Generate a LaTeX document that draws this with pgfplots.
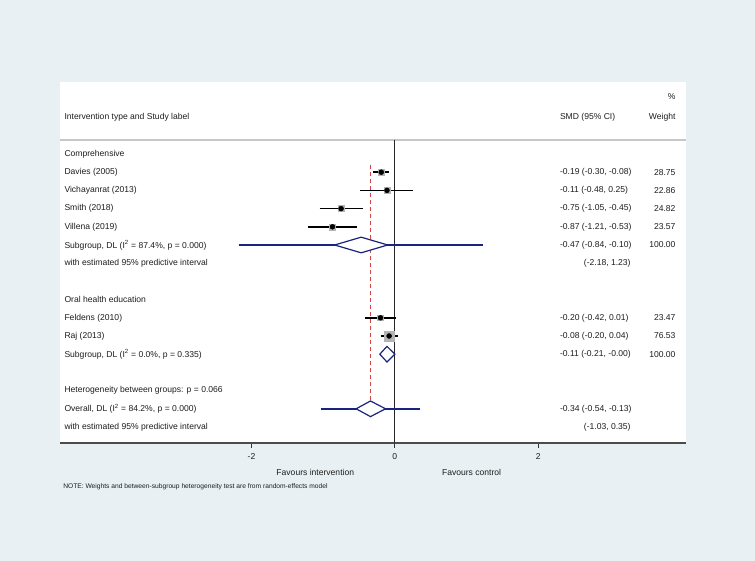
\documentclass[border=0pt]{standalone}
\usepackage{pgfplots}
\pgfplotsset{compat=1.18}
\usetikzlibrary{backgrounds}
\usepackage{fontspec}
\setmainfont{Liberation Sans}
\definecolor{bgc}{RGB}{232,240,243}
\definecolor{navy}{RGB}{26,35,126}
\definecolor{dred}{RGB}{210,70,70}
\definecolor{boxg}{RGB}{180,180,180}
\definecolor{txt}{RGB}{30,30,30}
\tikzset{tx/.style={font=\fontsize{8.6}{10}\selectfont, text=txt, inner sep=0pt}}
\begin{document}
\begin{tikzpicture}
\begin{axis}[
 scale only axis, width=626bp, height=361bp,
 xmin=-4.67, xmax=4.06, ymin=-2.956, ymax=16.88, y dir=reverse,
 axis x line*=bottom, axis y line=none,
 x axis line style={line width=1.3bp, draw=black!70, -},
 xtick={-2,0,2}, ytick=\empty,
 tick align=outside, major tick length=5bp, tick style={black!80, line width=0.8bp},
 xticklabel style={font=\fontsize{8.6}{10}\selectfont, text=txt, yshift=-2bp},
 /pgf/number format/assume math mode=true,
 axis background/.style={fill=white},
 clip=false,
]
% separator
\addplot[draw=black!22, line width=1.2bp] coordinates {(-4.67,0.23) (4.06,0.23)};
% zero line
\addplot[draw=black!85, line width=0.8bp] coordinates {(0,0.23) (0,16.88)};
% overall effect line
\addplot[draw=dred, line width=0.9bp, dash pattern=on 4bp off 3bp] coordinates {(-0.34,1.6) (-0.34,14.57)};
% weight boxes
\addplot[only marks, mark=square*, mark size=3.3bp, color=boxg] coordinates {(-0.19,2)};
\addplot[only marks, mark=square*, mark size=2.9bp, color=boxg] coordinates {(-0.11,3)};
\addplot[only marks, mark=square*, mark size=3.0bp, color=boxg] coordinates {(-0.75,4)};
\addplot[only marks, mark=square*, mark size=2.95bp, color=boxg] coordinates {(-0.87,5)};
\addplot[only marks, mark=square*, mark size=2.9bp, color=boxg] coordinates {(-0.20,10)};
\addplot[only marks, mark=square*, mark size=5bp, color=boxg] coordinates {(-0.08,11)};
% CI lines
\addplot[draw=black, line width=1.5bp] coordinates {(-0.30,2) (-0.08,2)};
\addplot[draw=black, line width=1.5bp] coordinates {(-0.48,3) (0.25,3)};
\addplot[draw=black, line width=1.5bp] coordinates {(-1.05,4) (-0.45,4)};
\addplot[draw=black, line width=1.5bp] coordinates {(-1.21,5) (-0.53,5)};
\addplot[draw=black, line width=1.5bp] coordinates {(-0.42,10) (0.01,10)};
\addplot[draw=black, line width=1.5bp] coordinates {(-0.20,11) (0.04,11)};
% point estimates
\addplot[only marks, mark=*, mark size=2.5bp, color=black] coordinates {(-0.19,2) (-0.11,3) (-0.75,4) (-0.87,5) (-0.20,10) (-0.08,11)};
% predictive intervals
\addplot[draw=navy, line width=1.6bp] coordinates {(-2.18,6) (1.23,6)};
\addplot[draw=navy, line width=1.6bp] coordinates {(-1.03,15) (0.35,15)};
% diamonds
\addplot[draw=navy, line width=1.2bp, fill=white] coordinates {(-0.84,6) (-0.47,5.57) (-0.10,6) (-0.47,6.43)} -- cycle;
\addplot[draw=navy, line width=1.2bp, fill=white] coordinates {(-0.21,12) (-0.11,11.57) (0.00,12) (-0.11,12.43)} -- cycle;
\addplot[draw=navy, line width=1.2bp, fill=white] coordinates {(-0.54,15) (-0.34,14.57) (-0.13,15) (-0.34,15.43)} -- cycle;
% headers
\node[tx, anchor=west] at (axis cs:-4.61,-1) {Intervention type and Study label};
\node[tx, anchor=west] at (axis cs:2.30,-1) {SMD (95\% CI)};
\node[tx, anchor=east] at (axis cs:3.916,-1) {Weight};
\node[tx, anchor=east] at (axis cs:3.916,-2.15) {\%};
% labels
\node[tx, anchor=west] at (axis cs:-4.61,1) {Comprehensive};
\node[tx, anchor=west] at (axis cs:-4.61,2) {Davies (2005)};
\node[tx, anchor=west] at (axis cs:-4.61,3) {Vichayanrat (2013)};
\node[tx, anchor=west] at (axis cs:-4.61,4) {Smith (2018)};
\node[tx, anchor=west] at (axis cs:-4.61,5) {Villena (2019)};
\node[tx, anchor=west] at (axis cs:-4.61,6) {Subgroup, DL (I\textsuperscript{2} = 87.4\%, p = 0.000)};
\node[tx, anchor=west] at (axis cs:-4.61,7) {with estimated 95\% predictive interval};
\node[tx, anchor=west] at (axis cs:-4.61,9) {Oral health education};
\node[tx, anchor=west] at (axis cs:-4.61,10) {Feldens (2010)};
\node[tx, anchor=west] at (axis cs:-4.61,11) {Raj (2013)};
\node[tx, anchor=west] at (axis cs:-4.61,12) {Subgroup, DL (I\textsuperscript{2} = 0.0\%, p = 0.335)};
\node[tx, anchor=west] at (axis cs:-4.61,14) {Heterogeneity between groups: p = 0.066};
\node[tx, anchor=west] at (axis cs:-4.61,15) {Overall, DL (I\textsuperscript{2} = 84.2\%, p = 0.000)};
\node[tx, anchor=west] at (axis cs:-4.61,16) {with estimated 95\% predictive interval};
% estimates
\node[tx, anchor=west] at (axis cs:2.30,2) {-0.19 (-0.30, -0.08)};
\node[tx, anchor=west] at (axis cs:2.30,3) {-0.11 (-0.48, 0.25)};
\node[tx, anchor=west] at (axis cs:2.30,4) {-0.75 (-1.05, -0.45)};
\node[tx, anchor=west] at (axis cs:2.30,5) {-0.87 (-1.21, -0.53)};
\node[tx, anchor=west] at (axis cs:2.30,6) {-0.47 (-0.84, -0.10)};
\node[tx, anchor=east] at (axis cs:3.29,7) {(-2.18, 1.23)};
\node[tx, anchor=west] at (axis cs:2.30,10) {-0.20 (-0.42, 0.01)};
\node[tx, anchor=west] at (axis cs:2.30,11) {-0.08 (-0.20, 0.04)};
\node[tx, anchor=west] at (axis cs:2.30,12) {-0.11 (-0.21, -0.00)};
\node[tx, anchor=west] at (axis cs:2.30,15) {-0.34 (-0.54, -0.13)};
\node[tx, anchor=east] at (axis cs:3.29,16) {(-1.03, 0.35)};
% weights
\node[tx, anchor=east] at (axis cs:3.916,2) {28.75};
\node[tx, anchor=east] at (axis cs:3.916,3) {22.86};
\node[tx, anchor=east] at (axis cs:3.916,4) {24.82};
\node[tx, anchor=east] at (axis cs:3.916,5) {23.57};
\node[tx, anchor=east] at (axis cs:3.916,6) {100.00};
\node[tx, anchor=east] at (axis cs:3.916,10) {23.47};
\node[tx, anchor=east] at (axis cs:3.916,11) {76.53};
\node[tx, anchor=east] at (axis cs:3.916,12) {100.00};
% axis titles
\node[tx] at (axis cs:-1.11,18.47) {Favours intervention};
\node[tx] at (axis cs:1.07,18.47) {Favours control};
\node[tx, anchor=west, font=\fontsize{6.7}{7.5}\selectfont] at (axis cs:-4.627,19.3) {NOTE: Weights and between-subgroup heterogeneity test are from random-effects model};
\coordinate (BL) at (axis cs:-4.67,16.88);
\end{axis}
\pgfresetboundingbox
\path ([shift={(-60bp,-118bp)}]BL) rectangle ([shift={(695bp,443bp)}]BL);
\begin{scope}[on background layer]
\fill[bgc] ([shift={(-60bp,-118bp)}]BL) rectangle ([shift={(695bp,443bp)}]BL);
\end{scope}
\end{tikzpicture}
\end{document}
